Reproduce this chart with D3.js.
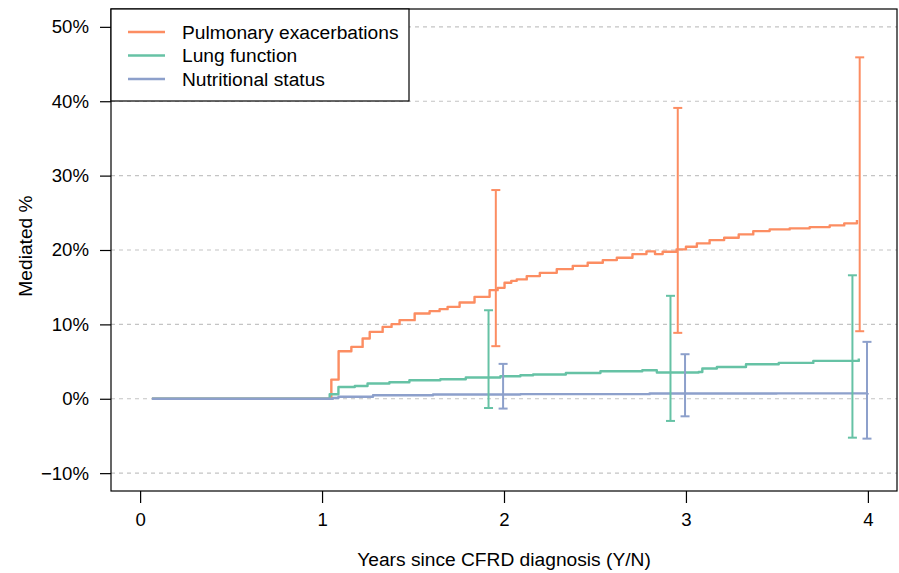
<!DOCTYPE html>
<html><head><meta charset="utf-8">
<script src="https://cdn.jsdelivr.net/npm/d3@7"></script>
<style>
html,body{margin:0;padding:0;background:#fff;}
text{font-family:"Liberation Sans",Arial,Helvetica,sans-serif;fill:#000;}
</style></head>
<body><svg id="chart" width="899" height="573"></svg>
<script>
// ---- data ----
const seriesNames = ["Pulmonary exacerbations", "Lung function", "Nutritional status"];
const seriesColors = ["#FC8D62", "#66C2A5", "#8DA0CB"];

const pulmX = [0.065, 1.024, 1.051, 1.091, 1.161, 1.223, 1.262, 1.333, 1.382, 1.426, 1.509, 1.591, 1.646, 1.690, 1.756, 1.838, 1.921, 1.965, 2.003, 2.04, 2.07, 2.125, 2.197, 2.29, 2.378, 2.46, 2.543, 2.62, 2.706, 2.783, 2.83, 2.872, 2.948, 3.0, 3.06, 3.13, 3.21, 3.29, 3.37, 3.46, 3.57, 3.68, 3.79, 3.87, 3.94];
const pulmY = [0, 0, 2.58, 6.39, 6.97, 8.10, 8.99, 9.66, 10.03, 10.57, 11.47, 11.78, 12.05, 12.36, 12.95, 13.70, 14.60, 14.91, 15.59, 15.85, 16.05, 16.49, 16.93, 17.43, 17.87, 18.28, 18.64, 18.95, 19.45, 19.81, 19.45, 19.76, 20.08, 20.43, 20.89, 21.33, 21.64, 22.1, 22.54, 22.77, 22.91, 23.08, 23.31, 23.58, 24.02];

const lungX = [0.065, 1.024, 1.042, 1.09, 1.18, 1.25, 1.37, 1.48, 1.65, 1.79, 1.98, 2.09, 2.16, 2.34, 2.53, 2.76, 2.84, 3.07, 3.09, 3.17, 3.33, 3.51, 3.70, 3.95];
const lungY = [0, 0, 0.6, 1.59, 1.72, 2.05, 2.22, 2.49, 2.62, 2.85, 3.03, 3.16, 3.26, 3.47, 3.70, 3.84, 3.53, 3.6, 4.06, 4.28, 4.64, 4.82, 5.09, 5.41];

const nutrX = [0.065, 1.024, 1.06, 1.09, 1.28, 1.61, 2.09, 2.8, 3.5, 4.0];
const nutrY = [0, 0, 0.1, 0.27, 0.48, 0.58, 0.62, 0.7, 0.72, 0.73];

const ciYears = [2, 3, 4];
const pulmLo = [7.07, 8.86, 9.08];
const pulmHi = [28.06, 39.1, 45.9];
const lungLo = [-1.24, -2.98, -5.23];
const lungHi = [11.9, 13.84, 16.6];
const nutrLo = [-1.32, -2.36, -5.36];
const nutrHi = [4.69, 5.99, 7.65];

const xTicks = [0, 1, 2, 3, 4];
const yTicks = [-10, 0, 10, 20, 30, 40, 50];
const xTitle = "Years since CFRD diagnosis (Y/N)";
const yTitle = "Mediated %";

// ---- layout ----
const svg = d3.select("#chart");
const L = 111, R = 897, T = 9, B = 491;
const x = d3.scaleLinear().domain([-0.16, 4.16]).range([L, R]);
const y = d3.scaleLinear().domain([-12.4, 52.4]).range([B, T]);
const fs = "18.6px", fsBig = "19.2px";

// grid
svg.append("g").selectAll("line").data(yTicks).join("line")
  .attr("x1", L).attr("x2", R)
  .attr("y1", d => y(d)).attr("y2", d => y(d))
  .attr("stroke", "#c4c4c4").attr("stroke-width", 1.1)
  .attr("stroke-dasharray", "4,4");

// series
const series = [
  {xs: pulmX, ys: pulmY, lo: pulmLo, hi: pulmHi, off: -0.045},
  {xs: lungX, ys: lungY, lo: lungLo, hi: lungHi, off: -0.085},
  {xs: nutrX, ys: nutrY, lo: nutrLo, hi: nutrHi, off: -0.005}
];
const line = d3.line().x(d => x(d[0])).y(d => y(d[1])).curve(d3.curveStepAfter);
series.forEach((s, i) => {
  const pts = s.xs.map((v, j) => [v, s.ys[j]]);
  svg.append("path").attr("d", line(pts)).attr("fill", "none")
    .attr("stroke", seriesColors[i]).attr("stroke-width", 2.4)
    .attr("stroke-linejoin", "round");
});
series.forEach((s, i) => {
  const g = svg.append("g").attr("stroke", seriesColors[i]).attr("stroke-width", 2);
  ciYears.forEach((t, j) => {
    const cx = x(t + s.off);
    g.append("line").attr("x1", cx).attr("x2", cx).attr("y1", y(s.lo[j])).attr("y2", y(s.hi[j]));
    g.append("line").attr("x1", cx - 4.5).attr("x2", cx + 4.5).attr("y1", y(s.lo[j])).attr("y2", y(s.lo[j]));
    g.append("line").attr("x1", cx - 4.5).attr("x2", cx + 4.5).attr("y1", y(s.hi[j])).attr("y2", y(s.hi[j]));
  });
});

// box
svg.append("rect").attr("x", L).attr("y", T).attr("width", R - L).attr("height", B - T)
  .attr("fill", "none").attr("stroke", "#000").attr("stroke-width", 1.2);

// axes
const xAxis = svg.append("g").attr("transform", `translate(0,${B})`)
  .call(d3.axisBottom(x).tickValues(xTicks).tickSize(12).tickPadding(10).tickFormat(d3.format("d")));
xAxis.select(".domain").remove();
xAxis.selectAll("text").style("font-size", fs).attr("fill", "#000");
xAxis.selectAll("line").attr("stroke", "#000").attr("stroke-width", 1.2);

const yAxis = svg.append("g").attr("transform", `translate(${L},0)`)
  .call(d3.axisLeft(y).tickValues(yTicks).tickSize(11).tickPadding(11)
    .tickFormat(d => (d < 0 ? "\u2212" + Math.abs(d) : d) + "%"));
yAxis.select(".domain").remove();
yAxis.selectAll("text").style("font-size", fs).attr("fill", "#000");
yAxis.selectAll("line").attr("stroke", "#000").attr("stroke-width", 1.2);

// titles
svg.append("text").attr("x", (x(0) + x(4)) / 2).attr("y", 566).attr("text-anchor", "middle")
  .style("font-size", fsBig).text(xTitle);
svg.append("text").attr("transform", `translate(32,246) rotate(-90)`)
  .attr("text-anchor", "middle").style("font-size", fsBig).text(yTitle);

// legend
const lg = svg.append("g");
lg.append("rect").attr("x", L).attr("y", T).attr("width", 298).attr("height", 92)
  .attr("fill", "#fff").attr("stroke", "#000").attr("stroke-width", 1.2);
seriesNames.forEach((n, i) => {
  const yy = 32 + i * 23.5;
  lg.append("line").attr("x1", 128).attr("x2", 165).attr("y1", yy).attr("y2", yy)
    .attr("stroke", seriesColors[i]).attr("stroke-width", 2.4);
  lg.append("text").attr("x", 182).attr("y", yy).attr("dy", "0.35em")
    .style("font-size", fsBig).text(n);
});
</script></body></html>
